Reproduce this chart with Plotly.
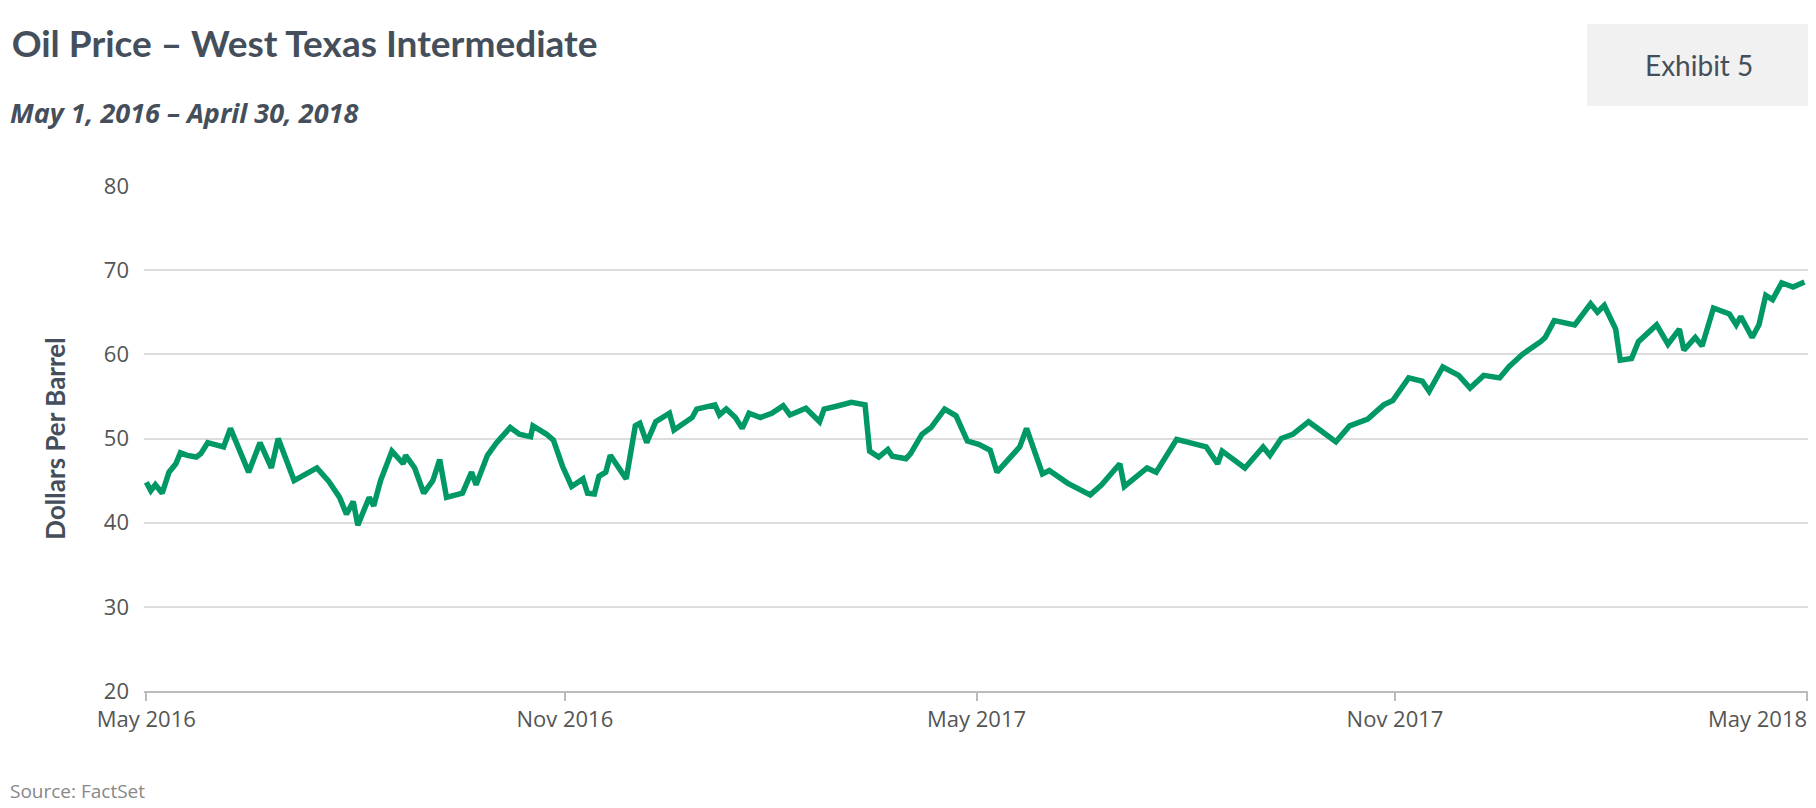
import pandas as pd
import plotly.graph_objects as go

start = pd.Timestamp("2016-05-01")
day_offsets = [0,2,4,7,10,13,15,18,22,24,27,32,34,37,45,50,55,58,65,75,80,85,88,91,93,98,100,103,108,113,114,118,122,126,129,132,139,143,145,150,154,160,164,169,170,176,179,183,187,192,194,197,199,202,204,211,215,217,220,224,230,232,240,242,250,252,255,259,262,265,270,275,280,283,290,296,298,303,310,316,318,322,326,328,334,336,341,345,351,356,361,366,371,374,379,384,387,394,397,405,415,420,428,430,440,444,453,461,466,471,473,483,491,494,499,504,511,516,523,529,537,544,548,555,561,564,570,577,582,588,595,599,605,613,615,619,628,635,638,641,646,648,653,656,664,669,674,676,681,684,689,696,699,701,706,709,712,715,719,724,729]
prices = [44.8,43.8,44.5,43.5,46,47,48.3,48,47.8,48.2,49.5,49.2,49,51.2,46,49.5,46.5,50,45,46.5,45,43,41,42.5,39.7,43,42,45,48.5,47,48,46.5,43.5,45,47.5,43,43.5,46,44.5,48,49.5,51.3,50.5,50.2,51.5,50.5,49.8,46.7,44.3,45.2,43.5,43.4,45.5,46,48,45.2,51.5,51.8,49.5,52,53,51,52.5,53.5,54,52.8,53.5,52.5,51.2,53,52.5,53,53.9,52.8,53.6,52,53.5,53.8,54.3,54,48.5,47.8,48.7,47.9,47.6,48.2,50.5,51.3,53.5,52.7,49.7,49.3,48.6,46,47.5,49,51.2,45.8,46.2,44.7,43.3,44.5,47,44.3,46.5,46,49.9,49.3,49,47,48.5,46.5,49,48,50,50.5,52,51,49.6,51.5,52.3,54,54.5,57.2,56.8,55.6,58.5,57.5,56,57.5,57.2,58.5,60,61.5,62,64,63.5,66,65,65.8,63,59.3,59.5,61.5,63.5,61.2,63,60.5,62,61,65.5,64.8,63.5,64.5,62,63.5,67,66.5,68.5,68,68.6]
dates = [start + pd.Timedelta(days=d) for d in day_offsets]

tick_vals = ["2016-05-01", "2016-11-01", "2017-05-01", "2017-11-01", "2018-05-01"]
tick_text = ["May 2016", "Nov 2016", "May 2017", "Nov 2017", "May 2018"]
y_ticks = [20, 30, 40, 50, 60, 70, 80]

dark = "#454f5b"
fig = go.Figure(go.Scatter(x=dates, y=prices, mode="lines",
                           line=dict(color="#009966", width=5.5), hoverinfo="skip"))
fig.update_layout(
    width=1816, height=808, plot_bgcolor="white", paper_bgcolor="white",
    margin=dict(l=136, r=15, t=178, b=125), showlegend=False,
    font=dict(family="Open Sans", color="#555555", size=22),
    title=dict(text="<b>Oil Price – West Texas Intermediate</b>", x=0.002, xanchor="left",
               y=0.955, yanchor="middle", font=dict(family="Lato", size=37, color=dark)),
)
fig.add_annotation(text="<i><b>May 1, 2016 – April 30, 2018</b></i>", xref="paper", yref="paper",
                   x=-136/1665, y=1 + (178-104)/505, xanchor="left", yanchor="middle",
                   showarrow=False, font=dict(family="Open Sans", size=27, color=dark))
fig.add_annotation(text="Source: FactSet", xref="paper", yref="paper",
                   x=-136/1665, y=-(783-683)/505, xanchor="left", yanchor="middle",
                   showarrow=False, font=dict(family="Open Sans", size=19, color="#888888"))
fig.add_annotation(text=tick_text[-1], xref="paper", yref="paper", x=1.0, y=0, yshift=-10,
                   xanchor="right", yanchor="top", showarrow=False,
                   font=dict(family="Open Sans", size=22, color="#555555"))
fig.add_shape(type="rect", xref="paper", yref="paper", x0=(1579-136)/1665, x1=(1802-136)/1665,
              y0=1 + (178-98)/505, y1=1 + (178-16)/505, fillcolor="#f1f1f1", line_width=0, layer="below")
fig.add_annotation(text="Exhibit 5", xref="paper", yref="paper",
                   x=((1579+1802)/2-136)/1665, y=1 + (178-57)/505, xanchor="center", yanchor="middle",
                   showarrow=False, font=dict(family="Lato", size=28, color=dark))
fig.update_xaxes(range=["2016-04-30", "2018-05-02"], tickvals=tick_vals,
                 ticktext=tick_text[:-1] + [""],
                 showgrid=False, showline=True, linecolor="#bbbbbb", linewidth=2,
                 ticks="outside", tickcolor="#bbbbbb", ticklen=8, tickwidth=2)
fig.update_yaxes(range=[20, 80], tickvals=y_ticks, showgrid=True, gridcolor="#dddddd", gridwidth=1.5,
                 zeroline=False, ticks="", ticklabelstandoff=14,
                 title=dict(text="<b>Dollars Per Barrel</b>", font=dict(family="Lato", size=26, color=dark),
                            standoff=30))
fig.write_html("out.html")
